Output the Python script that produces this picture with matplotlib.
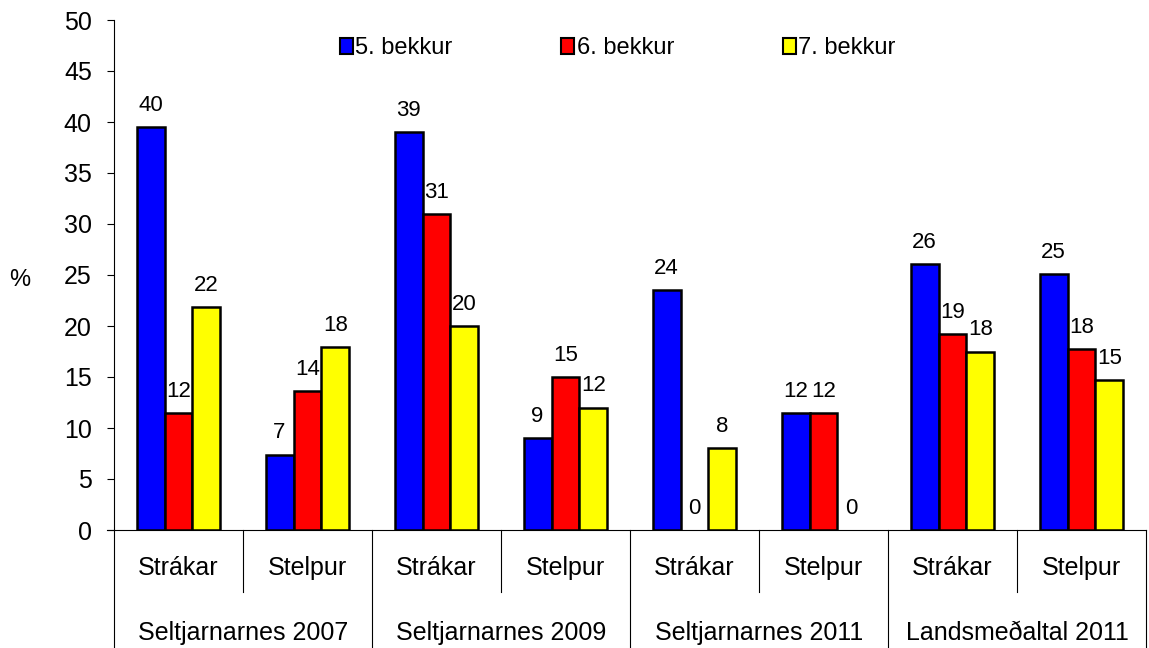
import matplotlib
matplotlib.use("Agg")
import matplotlib.pyplot as plt
from matplotlib.patches import Patch
import numpy as np

plt.rcParams['font.family'] = ['Liberation Sans', 'DejaVu Sans']

subgroups = ["Strákar", "Stelpur"] * 4
groups = ["Seltjarnarnes 2007", "Seltjarnarnes 2009", "Seltjarnarnes 2011", "Landsmeðaltal 2011"]
series_names = ["5. bekkur", "6. bekkur", "7. bekkur"]

bekkur5 = [39.5, 7.4, 39.0, 9.0, 23.5, 11.5, 26.1, 25.1]
bekkur6 = [11.5, 13.6, 31.0, 15.0, 0.0, 11.5, 19.2, 17.7]
bekkur7 = [21.9, 17.9, 20.0, 12.0, 8.0, 0.0, 17.5, 14.7]

labels5 = ["40", "7", "39", "9", "24", "12", "26", "25"]
labels6 = ["12", "14", "31", "15", "0", "12", "19", "18"]
labels7 = ["22", "18", "20", "12", "8", "0", "18", "15"]

colors = ["#0000FF", "#FF0000", "#FFFF00"]

fig = plt.figure(figsize=(11.49, 6.48), dpi=100)
ax = fig.add_axes([114/1149, (648-530)/648, (1146-114)/1149, 510/648])

x = np.arange(len(subgroups))
w = 0.217
for i, (vals, labs, col) in enumerate(zip([bekkur5, bekkur6, bekkur7],
                                          [labels5, labels6, labels7], colors)):
    xs = x + (i - 1) * w
    edges = ["black" if v > 0 else "none" for v in vals]
    ax.bar(xs, vals, width=w, color=col, edgecolor=edges, linewidth=1.8, zorder=3)
    for xi, v, l in zip(xs, vals, labs):
        ax.annotate(l, (xi, v), xytext=(0, 8), textcoords="offset points",
                    ha="center", va="bottom", fontsize=16)

ax.set_xlim(-0.5, len(subgroups) - 0.5)
ax.set_ylim(0, 50)
ax.set_yticks(np.arange(0, 51, 5))
ax.tick_params(axis="y", direction="out", length=5, width=0.8, pad=11, labelsize=18)
ax.set_xticks([])
for s in ["top", "right", "bottom"]:
    ax.spines[s].set_visible(False)
ax.spines["left"].set_linewidth(0.8)

trans = ax.get_xaxis_transform()
ax.plot([-0.5 - 7/129, len(subgroups) - 0.5], [0, 0], transform=trans,
        color="black", lw=0.8, clip_on=False, zorder=4)
for b in range(len(subgroups) + 1):
    xb = b - 0.5
    y1 = -118/510 if b % 2 == 0 else -62/510
    ax.plot([xb, xb], [0, y1], transform=trans, color="black", lw=0.8, clip_on=False)

for xi, s in zip(x, subgroups):
    ax.text(xi, -38/510, s, transform=trans, ha="center", va="center", fontsize=18)
for gi, g in enumerate(groups):
    ax.text(2 * gi + 0.5, -103/510, g, transform=trans, ha="center", va="center", fontsize=18)

ax.set_ylabel("%", rotation=0, fontsize=17, labelpad=0)
ax.yaxis.set_label_coords(-94/1032, (530-291)/510)

handles = [Patch(facecolor=c, edgecolor="black", linewidth=1.5) for c in colors]
ax.legend(handles, series_names, ncol=3, loc="center left",
          bbox_to_anchor=(226/1032, (530-48)/510),
          frameon=False, fontsize=17, handlelength=0.55, handleheight=0.65,
          handletextpad=0.1, columnspacing=4.6, borderaxespad=0, borderpad=0)

fig.savefig("out.png", dpi=100)
